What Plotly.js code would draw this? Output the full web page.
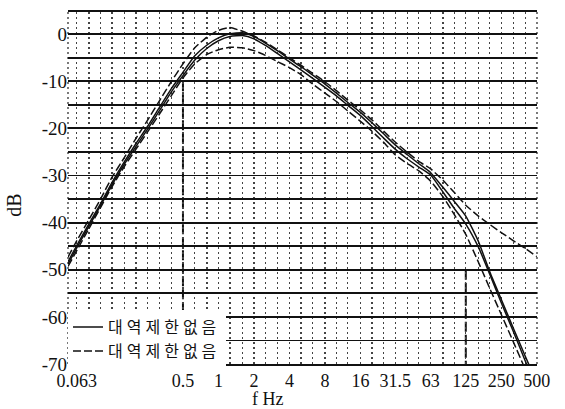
<!DOCTYPE html>
<html>
<head>
<meta charset="utf-8">
<script src="https://cdn.plot.ly/plotly-3.0.1.min.js"></script>
<style>
  html, body { margin: 0; padding: 0; background: #fff; }
  #chart { width: 565px; height: 409px; }
  .legendtext { letter-spacing: 4px; }
</style>
</head>
<body>
<div id="chart"></div>
<script>
// Frequencies (Hz) at which the curves are read
const freqs = [0.053, 0.063, 0.08, 0.1, 0.125, 0.16, 0.2, 0.25, 0.315, 0.4, 0.5, 0.63, 0.8, 1, 1.25, 1.6, 2, 2.5, 3.15, 4, 5, 6.3, 8, 10, 12.5, 16, 20, 25, 31.5, 40, 50, 63, 80, 100, 125, 160, 200, 250, 315, 400, 500];

// Dashed curve (upper, no steep high-frequency roll-off)
const curveDashUpper = [-47.3, -43.8, -39.3, -35.0, -30.4, -26.1, -22.1, -18.3, -14.2, -10.0, -6.3, -2.9, -0.6, 0.8, 1.4, 0.6, -0.4, -1.7, -3.3, -5.0, -6.6, -8.3, -10.1, -12.0, -14.0, -16.1, -18.2, -20.5, -22.9, -25.1, -27.0, -28.6, -31.0, -33.6, -36.3, -38.6, -40.4, -42.1, -43.8, -45.5, -47.2];
// Solid curve (upper of the pair)
const curveSolidUpper = [-48.3, -44.8, -40.2, -36.0, -31.5, -27.0, -23.2, -19.6, -15.6, -11.5, -8.1, -4.6, -2.3, -0.8, 0.1, 0.3, -0.5, -1.9, -3.5, -5.3, -6.9, -8.7, -10.6, -12.5, -14.5, -16.6, -18.8, -21.1, -23.5, -25.6, -27.5, -29.4, -32.5, -35.5, -38.6, -44.0, -50.5, -56.3, -62.3, -68.4, -74.0];
// Solid curve (lower of the pair)
const curveSolidLower = [-48.8, -45.3, -40.7, -36.4, -32.0, -27.5, -23.8, -20.2, -16.3, -12.2, -8.8, -5.5, -3.0, -1.4, -0.5, -0.3, -1.0, -2.4, -4.1, -5.9, -7.6, -9.4, -11.3, -13.1, -15.1, -17.3, -19.6, -22.0, -24.4, -26.5, -28.2, -29.9, -33.5, -37.0, -40.3, -45.2, -51.0, -57.0, -63.0, -69.4, -75.3];
// Dashed curve (lower)
const curveDashLower = [-49.3, -45.9, -41.2, -36.8, -32.4, -28.0, -24.4, -20.8, -17.0, -13.0, -9.3, -6.3, -4.3, -3.3, -2.8, -2.9, -3.5, -4.5, -5.8, -7.1, -8.6, -10.6, -12.5, -14.3, -16.3, -18.5, -20.6, -22.9, -25.6, -27.5, -29.0, -31.2, -34.5, -38.3, -42.5, -48.4, -54.0, -59.5, -65.2, -71.2, -77.0];

const legendLabels = ['대역제한없음', '대역제한없음'];

// Axis grid / tick labels
const gridFreqs = [0.063, 0.08, 0.1, 0.125, 0.16, 0.2, 0.25, 0.315, 0.4, 0.5, 0.63, 0.8, 1, 1.25, 1.6, 2, 2.5, 3.15, 4, 5, 6.3, 8, 10, 12.5, 16, 20, 25, 31.5, 40, 50, 63, 80, 100, 125, 160, 200, 250, 315, 400, 500];
const xLabelFreqs = [0.063, 0.5, 1, 2, 4, 8, 16, 31.5, 63, 125, 250, 500];
const xLabelTexts = ['0.063', '0.5', '1', '2', '4', '8', '16', '31.5', '63', '125', '250', '500'];
const yGrid = [0, -5, -10, -15, -20, -25, -30, -35, -40, -45, -50, -55, -60, -65, -70];
const yLabelVals = [0, -10, -20, -30, -40, -50, -60, -70];
const yLabelTexts = ['0', '-10', '-20', '-30', '-40', '-50', '-60', '-70'];

// Heavy dashed reference verticals
const refLineFreqs = [0.5, 125];
const refLineTops = [-10, -50];

const xTickText = gridFreqs.map(f => {
  const i = xLabelFreqs.indexOf(f);
  return i >= 0 ? xLabelTexts[i] : '';
});
const yTickText = yGrid.map(v => {
  const i = yLabelVals.indexOf(v);
  return i >= 0 ? yLabelTexts[i] : '';
});

const traces = [
  { x: freqs, y: curveSolidUpper, type: 'scatter', mode: 'lines', name: legendLabels[0],
    line: { color: '#111', width: 1.5, shape: 'spline', smoothing: 0.5 }, showlegend: true },
  { x: freqs, y: curveDashUpper, type: 'scatter', mode: 'lines', name: legendLabels[1],
    line: { color: '#111', width: 1.5, dash: '8px,3px', shape: 'spline', smoothing: 0.5 }, showlegend: true },
  { x: freqs, y: curveSolidLower, type: 'scatter', mode: 'lines', name: legendLabels[0],
    line: { color: '#111', width: 1.5, shape: 'spline', smoothing: 0.5 }, showlegend: false },
  { x: freqs, y: curveDashLower, type: 'scatter', mode: 'lines', name: legendLabels[1],
    line: { color: '#111', width: 1.5, dash: '8px,3px', shape: 'spline', smoothing: 0.5 }, showlegend: false }
];

const shapes = refLineFreqs.map((f, i) => ({
  type: 'line', xref: 'x', yref: 'y', x0: f, x1: f, y0: refLineTops[i], y1: -70,
  line: { color: '#111', width: 2, dash: '10px,3px' }, layer: 'below'
}));
// dotted left/right frame edges
shapes.push({ type: 'line', xref: 'paper', yref: 'paper', x0: 0, x1: 0, y0: 0, y1: 1,
  line: { color: '#333', width: 1.3, dash: '2px,3px' }, layer: 'below' });
shapes.push({ type: 'line', xref: 'paper', yref: 'paper', x0: 1, x1: 1, y0: 0, y1: 1,
  line: { color: '#333', width: 1.3, dash: '2px,3px' }, layer: 'below' });

const serif = 'Liberation Serif, DejaVu Serif, serif';

const layout = {
  width: 565, height: 409,
  margin: { l: 68, r: 28, t: 12, b: 45, pad: 0 },
  paper_bgcolor: '#fff', plot_bgcolor: '#fff',
  showlegend: true,
  legend: {
    x: 0, y: -0.012, xanchor: 'left', yanchor: 'bottom',
    bgcolor: '#fff', borderwidth: 0, tracegroupgap: 0,
    font: { family: 'Noto Sans CJK KR', size: 16, color: '#111' },
    itemwidth: 30, traceorder: 'normal'
  },
  xaxis: {
    type: 'log',
    range: [Math.log10(0.053), Math.log10(502)],
    tickmode: 'array', tickvals: gridFreqs, ticktext: xTickText,
    showgrid: true, gridcolor: '#444', gridwidth: 1.2, griddash: '2px,3px',
    ticks: '', zeroline: false,
    showline: true, mirror: true, linecolor: '#111', linewidth: 1.6,
    tickfont: { family: serif, size: 18, color: '#111' }
  },
  yaxis: {
    range: [-70, 4.7],
    tickmode: 'array', tickvals: yGrid, ticktext: yTickText,
    showgrid: true, gridcolor: '#111', gridwidth: 1.8,
    ticks: '', zeroline: false, showline: false,
    tickfont: { family: serif, size: 19, color: '#111' }
  },
  shapes: shapes,
  annotations: [
    { text: 'f Hz', xref: 'paper', yref: 'paper', x: 0.426, y: -0.1,
      xanchor: 'center', yanchor: 'middle', showarrow: false,
      font: { family: serif, size: 18, color: '#111' } },
    { text: 'dB', xref: 'paper', yref: 'paper', x: -0.117, y: 0.45,
      xanchor: 'center', yanchor: 'middle', showarrow: false, textangle: -90,
      font: { family: serif, size: 20, color: '#111' } }
  ]
};

Plotly.newPlot('chart', traces, layout, { staticPlot: true, displayModeBar: false });
</script>
</body>
</html>
